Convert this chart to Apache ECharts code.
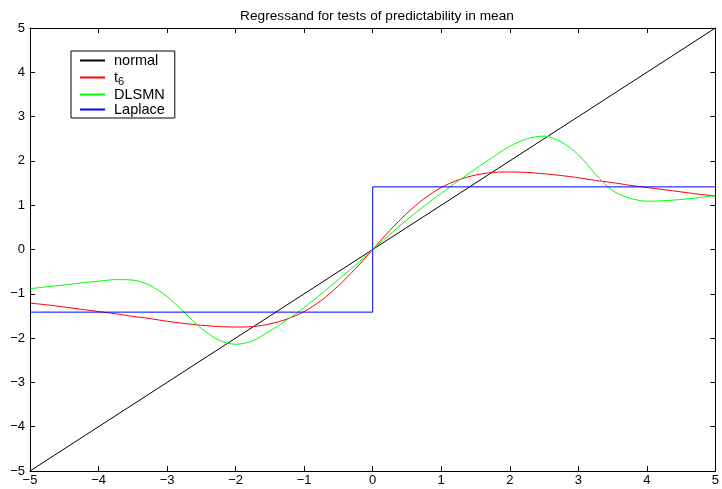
<!DOCTYPE html>
<html>
<head>
<meta charset="utf-8">
<script src="https://cdn.jsdelivr.net/npm/echarts@6/dist/echarts.min.js"></script>
<style>html,body{margin:0;padding:0;background:#fff;}#c{width:722px;height:489px;}</style>
</head>
<body>
<div id="c"></div>
<script>
var titleText = 'Regressand for tests of predictability in mean';
var seriesNames = ['normal', 't6', 'DLSMN', 'Laplace'];
var tickValues = [-5, -4, -3, -2, -1, 0, 1, 2, 3, 4, 5];

var normalX = [-5, 5];
var normalY = [-5, 5];

var gridX = [-5, -4.75, -4.5, -4.25, -4, -3.75, -3.5, -3.25, -3, -2.75, -2.5, -2.25, -2, -1.75, -1.5, -1.25, -1, -0.75, -0.5, -0.25,
  0, 0.25, 0.5, 0.75, 1, 1.25, 1.5, 1.75, 2, 2.25, 2.5, 2.75, 3, 3.25, 3.5, 3.75, 4, 4.25, 4.5, 4.75, 5];

var t6Y = [-1.21, -1.25, -1.30, -1.35, -1.40, -1.45, -1.51, -1.56, -1.62, -1.67, -1.71, -1.74, -1.75, -1.74, -1.68, -1.57, -1.40, -1.15, -0.82, -0.43,
  0, 0.43, 0.82, 1.15, 1.40, 1.57, 1.68, 1.74, 1.75, 1.74, 1.71, 1.67, 1.62, 1.56, 1.51, 1.45, 1.40, 1.35, 1.30, 1.25, 1.21];

var dlsmnY = [-0.885, -0.84, -0.80, -0.755, -0.715, -0.68, -0.69, -0.81, -1.06, -1.42, -1.78, -2.04, -2.14, -2.06, -1.84, -1.59, -1.31, -1.00, -0.68, -0.35,
  0, 0.34, 0.67, 0.98, 1.27, 1.55, 1.82, 2.08, 2.33, 2.50, 2.56, 2.43, 2.14, 1.70, 1.33, 1.16, 1.09, 1.10, 1.13, 1.17, 1.215];

var laplaceX = [-5, 0, 0, 5];
var laplaceY = [-1.414, -1.414, 1.414, 1.414];

var colors = ['#000000', '#ff0000', '#00ff00', '#0000ff'];

function pairs(xs, ys) { return xs.map(function (x, i) { return [x, ys[i]]; }); }
function minusFmt(v) { return String(v).replace('-', '\u2212'); }

var chart = echarts.init(document.getElementById('c'), null, { renderer: 'canvas' });
var font = 'Liberation Sans, Arial, Helvetica, sans-serif';
var baseAxis = {
  type: 'value', min: -5, max: 5, interval: 1,
  axisLine: { show: true, onZero: false, lineStyle: { color: '#000', width: 1 } },
  axisTick: { show: true, inside: true, length: 5, lineStyle: { color: '#000' } },
  splitLine: { show: false }
};
function ax(extra) { return Object.assign({}, JSON.parse(JSON.stringify(baseAxis)), extra); }

chart.setOption({
  animation: false,
  backgroundColor: '#fff',
  color: colors,
  title: {
    text: titleText, left: 372, top: 4, textAlign: 'center',
    textStyle: { fontFamily: font, fontSize: 13.7, fontWeight: 'normal', color: '#000' }
  },
  grid: { left: 30, right: 6, top: 28, bottom: 18, containLabel: false },
  legend: {
    orient: 'vertical', left: 71, top: 51,
    padding: [2, 10, 1, 9],
    itemWidth: 25, itemHeight: 2, itemGap: 0,
    icon: 'rect',
    backgroundColor: '#fff', borderColor: '#000', borderWidth: 1,
    data: seriesNames.map(function (n, i) { return { name: n, itemStyle: { color: colors[i], opacity: 1 } }; }),
    formatter: function (n) { return n === 't6' ? '{a|t}{b|6}' : n; },
    textStyle: {
      fontFamily: font, fontSize: 14.5, color: '#000', lineHeight: 15, padding: [0, 0, 0, 4],
      rich: {
        a: { fontFamily: font, fontSize: 14.5, color: '#000', lineHeight: 15 },
        b: { fontFamily: font, fontSize: 11, color: '#000', lineHeight: 15, padding: [8, 0, 0, 0] }
      }
    }
  },
  xAxis: [
    ax({ position: 'bottom', axisLabel: { show: true, margin: 3, color: '#000', fontFamily: font, fontSize: 13, formatter: minusFmt } }),
    ax({ position: 'top', axisLabel: { show: false } })
  ],
  yAxis: [
    ax({ position: 'left', axisLabel: { show: true, margin: 5, color: '#000', fontFamily: font, fontSize: 13, formatter: minusFmt } }),
    ax({ position: 'right', axisLabel: { show: false } })
  ],
  series: [
    { name: 'normal', type: 'line', data: pairs(normalX, normalY), symbol: 'none', lineStyle: { color: colors[0], width: 1 }, itemStyle: { color: colors[0] }, z: 2 },
    { name: 't6', type: 'line', data: pairs(gridX, t6Y), smooth: 0.3, symbol: 'none', lineStyle: { color: colors[1], width: 1 }, itemStyle: { color: colors[1] }, z: 3 },
    { name: 'DLSMN', type: 'line', data: pairs(gridX, dlsmnY), smooth: 0.3, symbol: 'none', lineStyle: { color: colors[2], width: 1 }, itemStyle: { color: colors[2] }, z: 4 },
    { name: 'Laplace', type: 'line', data: pairs(laplaceX, laplaceY), symbol: 'none', lineStyle: { color: colors[3], width: 1 }, itemStyle: { color: colors[3] }, z: 5 }
  ]
});
</script>
</body>
</html>
